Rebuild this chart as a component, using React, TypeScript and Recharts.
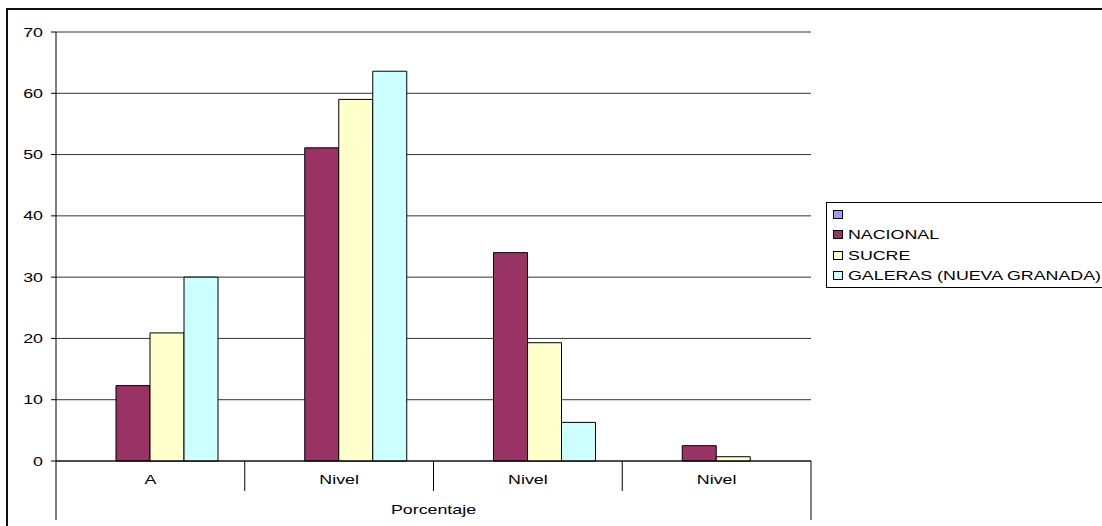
import { BarChart, Bar, XAxis, YAxis, CartesianGrid, Legend, Label } from "recharts";

const categories = ["A", "Nivel", "Nivel", "Nivel"];
const blankValues = [null, null, null, null];
const nacional = [12.3, 51.1, 34.0, 2.5];
const sucre = [20.9, 59.0, 19.3, 0.7];
const galeras = [30.0, 63.6, 6.3, 0];
const yTicks = [0, 10, 20, 30, 40, 50, 60, 70];
const groupLabel = "Porcentaje";

const series = [
  { key: "blank", name: "", values: blankValues, color: "#9999FF" },
  { key: "nacional", name: "NACIONAL", values: nacional, color: "#993366" },
  { key: "sucre", name: "SUCRE", values: sucre, color: "#FFFFCC" },
  { key: "galeras", name: "GALERAS (NUEVA GRANADA)", values: galeras, color: "#CCFFFF" },
];

const data = categories.map((label, i) => {
  const row: Record<string, any> = { id: "c" + i, label };
  series.forEach((s) => (row[s.key] = s.values[i]));
  return row;
});

const W = 1102;
const H = 526;
const FONT = "'Liberation Sans', Arial, sans-serif";
const FS = 13;
const STRETCH = 1.37; // the source picture is stretched sideways
const PLOT_LEFT = 56;
const PLOT_RIGHT = 811;
const AXIS_Y = 461;
const BAND = (PLOT_RIGHT - PLOT_LEFT) / categories.length;

const WideText = ({ x, y, anchor, children }: any) => (
  <text
    transform={`translate(${x},${y}) scale(${STRETCH},1)`}
    textAnchor={anchor}
    fontSize={FS}
    fill="#000"
    fontFamily={FONT}
  >
    {children}
  </text>
);

const CategoryTick = (props: any) => {
  const { x, payload, index } = props;
  const last = index === categories.length - 1;
  return (
    <g>
      {index === 0 && (
        <line x1={x - BAND / 2} x2={x - BAND / 2} y1={AXIS_Y} y2={AXIS_Y + 59} stroke="#000" />
      )}
      <line
        x1={x + BAND / 2}
        x2={x + BAND / 2}
        y1={AXIS_Y}
        y2={last ? AXIS_Y + 59 : AXIS_Y + 30}
        stroke="#000"
      />
      <WideText x={x} y={AXIS_Y + 23} anchor="middle">
        {categories[index] ?? payload.value}
      </WideText>
    </g>
  );
};

const ValueTick = (props: any) => {
  const { x, y, payload } = props;
  return (
    <WideText x={x} y={y + 4.5} anchor="end">
      {payload.value}
    </WideText>
  );
};

const GroupLabel = (props: any) => {
  const { viewBox } = props;
  return (
    <WideText x={viewBox.x + viewBox.width / 2} y={AXIS_Y + 53} anchor="middle">
      {groupLabel}
    </WideText>
  );
};

const LegendBox = () => (
  <div
    style={{
      border: "1px solid #000",
      background: "#fff",
      width: 400,
      height: 86,
      padding: "1px 0 0 6px",
      boxSizing: "border-box",
      fontFamily: FONT,
      fontSize: FS,
      color: "#000",
    }}
  >
    {series.map((s) => (
      <div key={s.key} style={{ height: 20.5, display: "flex", alignItems: "center", whiteSpace: "nowrap" }}>
        <span
          style={{
            display: "inline-block",
            width: 8,
            height: 7,
            border: "1px solid #000",
            background: s.color,
            marginRight: 5,
          }}
        />
        <span style={{ display: "inline-block", transform: `scaleX(${STRETCH})`, transformOrigin: "left center" }}>
          {s.name}
        </span>
      </div>
    ))}
  </div>
);

export default function App() {
  return (
    <div style={{ position: "absolute", left: 0, top: 0, width: W, height: H, overflow: "hidden", background: "#fff" }}>
      <div
        style={{
          position: "absolute",
          left: 6,
          top: 8,
          width: 1200,
          height: 700,
          borderLeft: "2px solid #111",
          borderTop: "2px solid #111",
        }}
      />
      <div style={{ position: "absolute", left: 0, top: 0 }}>
        <BarChart
          width={W}
          height={H}
          data={data}
          margin={{ top: 32, right: W - PLOT_RIGHT, bottom: 5, left: 8 }}
          barCategoryGap={26}
          barGap={0}
        >
          <CartesianGrid vertical={false} stroke="#333" />
          <XAxis
            dataKey="id"
            height={60}
            tickLine={false}
            axisLine={{ stroke: "#000" }}
            tick={<CategoryTick />}
            interval={0}
          >
            <Label position="insideBottom" content={<GroupLabel />} />
          </XAxis>
          <YAxis
            width={48}
            domain={[0, 70]}
            ticks={yTicks}
            interval={0}
            tickSize={5}
            tickMargin={8}
            tickLine={{ stroke: "#000" }}
            axisLine={{ stroke: "#000" }}
            tick={<ValueTick />}
          />
          <YAxis
            yAxisId="r"
            orientation="right"
            width={0}
            domain={[0, 70]}
            tick={false}
            tickLine={false}
            axisLine={{ stroke: "#999" }}
          />
          <Legend
            layout="vertical"
            align="center"
            verticalAlign="middle"
            wrapperStyle={{ position: "absolute", left: 826, top: 202, width: 400, height: 86 }}
            content={() => <LegendBox />}
          />
          {series.map((s) => (
            <Bar
              key={s.key}
              dataKey={s.key}
              name={s.name}
              fill={s.color}
              stroke="#000"
              strokeWidth={1}
              isAnimationActive={false}
            />
          ))}
        </BarChart>
      </div>
    </div>
  );
}
